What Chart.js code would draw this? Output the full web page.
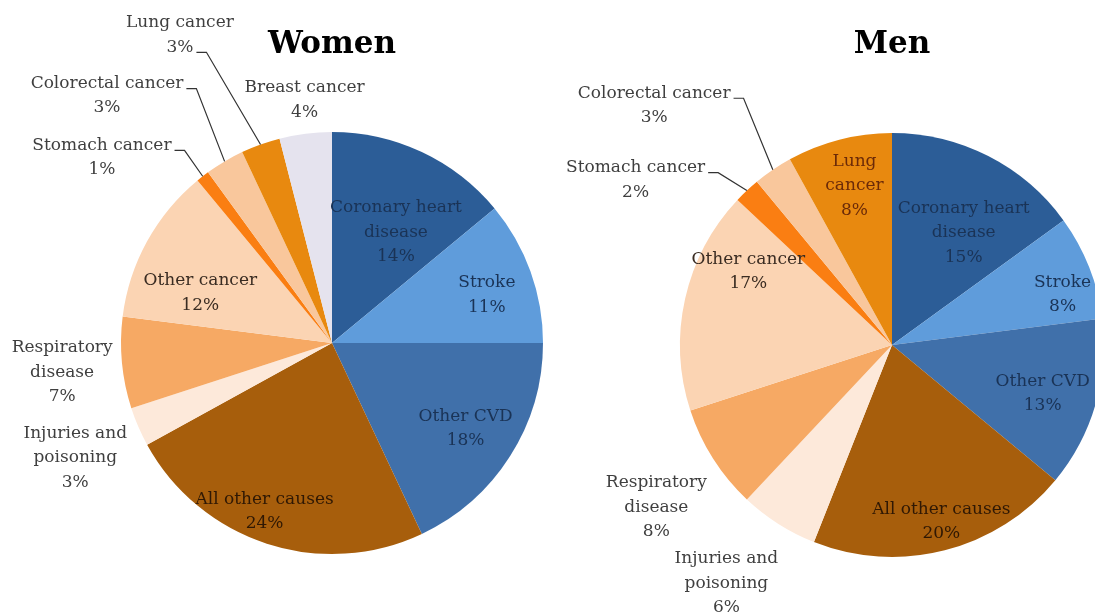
<!DOCTYPE html>
<html>
<head>
<meta charset="utf-8">
<script src="https://cdn.jsdelivr.net/npm/chart.js@4"></script>
<style>
    html, body { margin: 0; padding: 0; background: #fff; overflow: hidden; }
    body { width: 1095px; height: 615px; position: relative; }
    canvas { position: absolute; top: 0; }
    #graficoWomen { left: 0; }
    #graficoMen { left: 560px; }
</style>
</head>
<body>
<canvas id="graficoWomen" width="560" height="615"></canvas>
<canvas id="graficoMen" width="560" height="615"></canvas>
<script>
// dados (% das mortes)
const womenLabels = ["Coronary heart disease", "Stroke", "Other CVD", "All other causes", "Injuries and poisoning",
    "Respiratory disease", "Other cancer", "Stomach cancer", "Colorectal cancer", "Lung cancer", "Breast cancer"];
const womenValues = [14, 11, 18, 24, 3, 7, 12, 1, 3, 3, 4];

const menLabels = ["Coronary heart disease", "Stroke", "Other CVD", "All other causes", "Injuries and poisoning",
    "Respiratory disease", "Other cancer", "Stomach cancer", "Colorectal cancer", "Lung cancer"];
const menValues = [15, 8, 13, 20, 6, 8, 17, 2, 3, 8];

// quebras de linha dos rótulos
const womenLines = [["Coronary heart", "disease"], ["Stroke"], ["Other CVD"], ["All other causes"], ["Injuries and", "poisoning"],
    ["Respiratory", "disease"], ["Other cancer"], ["Stomach cancer"], ["Colorectal cancer"], ["Lung cancer"], ["Breast cancer"]];
const menLines = [["Coronary heart", "disease"], ["Stroke"], ["Other CVD"], ["All other causes"], ["Injuries and", "poisoning"],
    ["Respiratory", "disease"], ["Other cancer"], ["Stomach cancer"], ["Colorectal cancer"], ["Lung", "cancer"]];

const cores = {
    "Coronary heart disease": "#2C5D97",
    "Stroke": "#5F9CDB",
    "Other CVD": "#4070AA",
    "All other causes": "#A75E0C",
    "Injuries and poisoning": "#FDE9DA",
    "Respiratory disease": "#F6A964",
    "Other cancer": "#FBD4B3",
    "Stomach cancer": "#FA7E12",
    "Colorectal cancer": "#F9C79C",
    "Lung cancer": "#E8890F",
    "Breast cancer": "#E5E3EE"
};

const navy = "#1A3356", marrom = "#2F1804", cinza = "#3F3F3F";

// posição dos rótulos: f = fração do raio no ângulo médio, dx/dy ajuste, leader = linha onde começa a guia
const womenPlace = [
    { f: 0.6, dx: 10, dy: 4, color: navy },
    { f: 0.77, dx: 2, dy: 7, color: navy },
    { f: 0.75, dx: 0, dy: 1, color: navy },
    { f: 0.85, dx: -12, dy: -2, color: marrom },
    { f: 1.3, dx: -5, dy: 6, color: cinza },
    { f: 1.28, dx: -1, dy: 4, color: cinza },
    { f: 0.68, dx: -6, dy: 19, color: "#3A2C22" },
    { f: 1.4, dx: -49, dy: 48, color: cinza, leader: 0 },
    { f: 1.35, dx: -80, dy: -2, color: cinza, leader: 0 },
    { f: 1.4, dx: -52, dy: -30, color: cinza, leader: 1 },
    { f: 1.15, dx: 3, dy: -2, color: cinza }
];
const menPlace = [
    { f: 0.62, dx: 12, dy: 5, color: navy },
    { f: 0.85, dx: 3, dy: 16, color: navy },
    { f: 0.74, dx: 0, dy: 5, color: navy },
    { f: 0.86, dx: 4, dy: 0, color: marrom },
    { f: 1.37, dx: -10, dy: -7, color: cinza },
    { f: 1.35, dx: 6, dy: 9, color: cinza },
    { f: 0.68, dx: -3, dy: -42, color: "#3A2C22" },
    { f: 1.45, dx: -46, dy: 59, color: cinza, leader: 0 },
    { f: 1.4, dx: -71, dy: 6, color: cinza, leader: 0 },
    { f: 0.75, dx: 2, dy: -5, color: "#6B2A08" }
];

const rotulosPlugin = {
    id: "rotulos",
    afterDatasetsDraw(chart, args, opts) {
        const ctx = chart.ctx;
        const meta = chart.getDatasetMeta(0);
        const valores = chart.data.datasets[0].data;
        const lh = 24.5;
        ctx.save();
        ctx.font = '17px "DejaVu Serif"';
        ctx.textAlign = "center";
        ctx.textBaseline = "middle";
        meta.data.forEach((arc, i) => {
            const p = opts.place[i];
            const mid = (arc.startAngle + arc.endAngle) / 2;
            const R = arc.outerRadius;
            const x = arc.x + Math.cos(mid) * R * p.f + p.dx;
            const y = arc.y + Math.sin(mid) * R * p.f + p.dy;
            const linhas = opts.lines[i].concat(valores[i] + "%");
            const y0 = y - (linhas.length - 1) * lh / 2;
            ctx.fillStyle = p.color;
            linhas.forEach((t, k) => ctx.fillText(t, x, y0 + k * lh));
            if (p.leader != null) {
                const k = p.leader;
                const w = ctx.measureText(linhas[k]).width;
                const sx = x + w / 2 + 3, sy = y0 + k * lh + 5;
                const ex = arc.x + Math.cos(mid) * R, ey = arc.y + Math.sin(mid) * R;
                ctx.beginPath();
                ctx.moveTo(sx, sy);
                ctx.lineTo(sx + 10, sy);
                ctx.lineTo(ex, ey);
                ctx.strokeStyle = "#333";
                ctx.lineWidth = 1.2;
                ctx.stroke();
            }
        });
        // título
        ctx.font = 'bold 31px "DejaVu Serif"';
        ctx.fillStyle = "#000";
        ctx.textBaseline = "alphabetic";
        ctx.fillText(opts.title, meta.data[0].x, 53);
        ctx.restore();
    }
};

function gerarPizza(id, titulo, labels, valores, linhas, place, padding) {
    const ctx = document.getElementById(id).getContext("2d");
    return new Chart(ctx, {
        type: "pie",
        data: {
            labels: labels,
            datasets: [{
                data: valores,
                backgroundColor: labels.map(l => cores[l]),
                borderWidth: 0,
                hoverOffset: 0
            }]
        },
        options: {
            responsive: false,
            animation: false,
            layout: { padding: padding },
            plugins: {
                legend: { display: false },
                tooltip: { enabled: false },
                rotulos: { title: titulo, lines: linhas, place: place }
            }
        },
        plugins: [rotulosPlugin]
    });
}

gerarPizza("graficoWomen", "Women", womenLabels, womenValues, womenLines, womenPlace,
    { left: 121, right: 17, top: 132, bottom: 61 });
gerarPizza("graficoMen", "Men", menLabels, menValues, menLines, menPlace,
    { left: 120, right: 16, top: 133, bottom: 58 });
</script>
</body>
</html>
